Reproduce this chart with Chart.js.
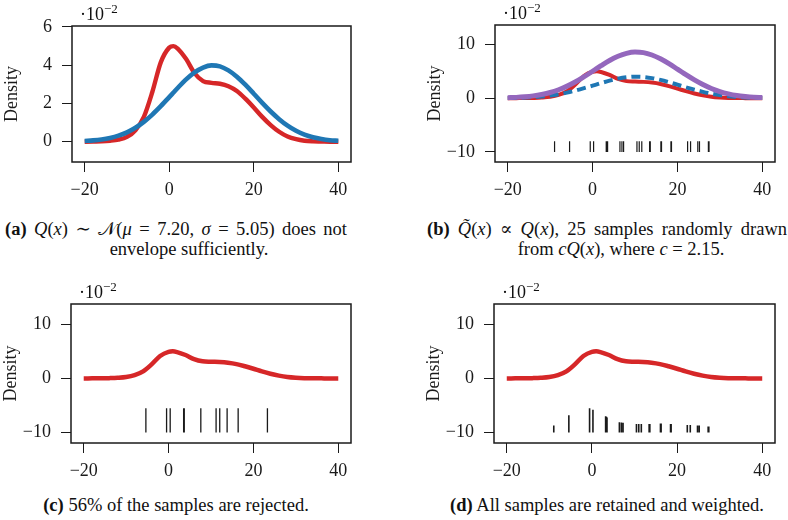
<!DOCTYPE html>
<html>
<head>
<meta charset="utf-8">
<script src="https://cdn.jsdelivr.net/npm/chart.js@4.4.1/dist/chart.umd.min.js"></script>
<style>
  body { margin: 0; background: #fff; }
  #fig { position: relative; width: 788px; height: 520px; overflow: hidden;
         font-family: "Liberation Serif", "DejaVu Serif", serif; color: #111; }
  .panel { position: absolute; }
  .panel canvas { display: block; }
  .scale { position: absolute; font-size: 18px; line-height: 18px; white-space: nowrap; }
  .scale sup { font-size: 13px; vertical-align: 7px; line-height: 0; }
  .cap { position: absolute; font-size: 18.5px; line-height: 20px; }
  .cap .l1 { text-align: justify; text-align-last: justify; }
  .cap .l2, .cap .one { text-align: center; }
</style>
</head>
<body>
<div id="fig">
  <div class="panel"><canvas id="chartA"></canvas></div>
  <div class="panel"><canvas id="chartB"></canvas></div>
  <div class="panel"><canvas id="chartC"></canvas></div>
  <div class="panel"><canvas id="chartD"></canvas></div>

  <div class="cap" style="left:5px; top:219px; width:342px;">
    <div class="l1"><b>(a)</b> <i>Q</i>(<i>x</i>) ∼ 𝒩(<i>μ</i> = 7.20, <i>σ</i> = 5.05) does not</div>
    <div class="l2" style="padding-left:26px;">envelope sufficiently.</div>
  </div>
  <div class="cap" style="left:427px; top:219px; width:360px;">
    <div class="l1"><b>(b)</b> <i>Q̃</i>(<i>x</i>) ∝ <i>Q</i>(<i>x</i>), 25 samples randomly drawn</div>
    <div class="l2" style="padding-left:28px;">from <i>cQ</i>(<i>x</i>), where <i>c</i> = 2.15.</div>
  </div>
  <div class="cap" style="left:5px; top:495px; width:342px;">
    <div class="one"><b>(c)</b> 56% of the samples are rejected.</div>
  </div>
  <div class="cap" style="left:427px; top:495px; width:360px;">
    <div class="one"><b>(d)</b> All samples are retained and weighted.</div>
  </div>
</div>

<script>
// density curves, values in units of 10^-2
const xGrid = [-20, -18, -16, -14, -12, -10, -8, -6, -4, -2, 0, 1, 2, 4, 6, 8,
               10, 12, 14, 16, 18, 20, 22, 24, 26, 28, 30, 32, 34, 36, 38, 40];
const targetP = [0.00, 0.01, 0.02, 0.05, 0.11, 0.25, 0.60, 1.30, 2.60, 4.15, 4.92, 5.00, 4.87, 4.32, 3.58, 3.17,
                 3.08, 3.03, 2.90, 2.65, 2.25, 1.79, 1.30, 0.87, 0.52, 0.27, 0.13, 0.05, 0.02, 0.01, 0.00, 0.00];
const proposalQ = [0.04, 0.07, 0.12, 0.20, 0.32, 0.49, 0.73, 1.04, 1.42, 1.86, 2.33, 2.57, 2.81, 3.26, 3.63, 3.88,
                   3.99, 3.94, 3.73, 3.40, 2.98, 2.51, 2.03, 1.58, 1.18, 0.84, 0.57, 0.37, 0.23, 0.14, 0.08, 0.05];
const scaledCQ = [0.09, 0.15, 0.26, 0.43, 0.69, 1.05, 1.57, 2.24, 3.05, 4.00, 5.01, 5.53, 6.04, 7.01, 7.80, 8.34,
                  8.58, 8.47, 8.02, 7.31, 6.41, 5.40, 4.36, 3.40, 2.54, 1.81, 1.23, 0.80, 0.49, 0.30, 0.17, 0.11];

// samples drawn from cQ(x)
const samplesAll = [-8.96, -5.42, -0.55, 0.24, 3.22, 3.40, 3.54, 6.45, 6.92, 7.31, 10.46, 11.0, 11.6,
                    13.44, 13.6, 16.1, 16.25, 18.47, 18.6, 22.4, 23.1, 24.8, 25.2, 27.3, 27.45];
const sampleWeights = [1.3, 3.2, 4.5, 4.2, 3.0, 2.9, 2.8, 1.9, 1.85, 1.8, 1.6, 1.6, 1.6,
                       1.6, 1.6, 1.65, 1.65, 1.6, 1.6, 1.4, 1.4, 1.3, 1.3, 1.1, 1.1];
const samplesAccepted = [-5.35, -0.47, 0.38, 3.55, 3.7, 7.6, 11.2, 12.06, 13.8, 16.4, 23.3];
const rugBase = -10;
const rugHeightB = 2;
const rugHeightC = 4.5;

const xTicks = [-20, 0, 20, 40];
const yTicksA = [0, 2, 4, 6];
const yTicksB = [-10, 0, 10];

const RED = "#d62728";
const BLUE = "#1f77b4";
const PURPLE = "#9467bd";
const INK = "#1a1a1a";
const FONT = { family: "'Liberation Serif', 'DejaVu Serif', serif", size: 18 };

const Y_AXIS_W = 72;
const X_AXIS_H = 46;
const PAD_TOP = 24;
const PAD_RIGHT = 10;

function curve(ys) {
  return xGrid.map((x, i) => ({ x: x, y: ys[i] }));
}

function rug(xs, heightOf) {
  const pts = [];
  xs.forEach((x, i) => {
    pts.push({ x: x, y: rugBase });
    pts.push({ x: x, y: rugBase + heightOf(i) });
    pts.push({ x: x, y: null });
  });
  return pts;
}

function lineSet(ys, color, width, dash) {
  return {
    data: curve(ys),
    showLine: true,
    borderColor: color,
    borderWidth: width,
    borderDash: dash || [],
    borderCapStyle: "butt",
    cubicInterpolationMode: "monotone",
    pointRadius: 0,
  };
}

function rugSet(pts, width) {
  return {
    data: pts,
    showLine: true,
    spanGaps: false,
    borderColor: INK,
    borderWidth: width,
    pointRadius: 0,
  };
}

const frame = {
  id: "frame",
  afterDatasetsDraw(chart) {
    const { ctx, chartArea: a } = chart;
    ctx.save();
    ctx.strokeStyle = INK;
    ctx.lineWidth = 1.5;
    ctx.strokeRect(a.left, a.top, a.right - a.left, a.bottom - a.top);
    ctx.restore();
  },
};

function fmt(v) {
  return v < 0 ? "\u2212" + Math.abs(v) : String(v);
}

function makePanel(id, box, yMin, yMax, yTicks, datasets) {
  const canvas = document.getElementById(id);
  const wrap = canvas.parentNode;
  const w = Y_AXIS_W + (box.r - box.l) + PAD_RIGHT;
  const h = PAD_TOP + (box.b - box.t) + X_AXIS_H;
  wrap.style.left = box.l - Y_AXIS_W + "px";
  wrap.style.top = box.t - PAD_TOP + "px";
  canvas.width = w;
  canvas.height = h;
  canvas.style.width = w + "px";
  canvas.style.height = h + "px";

  // the ·10^-2 multiplier above the frame
  const mult = document.createElement("div");
  mult.className = "scale";
  mult.innerHTML = "·10<sup>\u22122</sup>";
  mult.style.left = box.l + 8 + "px";
  mult.style.top = box.t - 21 + "px";
  document.getElementById("fig").appendChild(mult);

  new Chart(canvas, {
    type: "scatter",
    data: { datasets: datasets },
    options: {
      responsive: false,
      animation: false,
      events: [],
      layout: { padding: { left: 0, top: PAD_TOP, right: PAD_RIGHT, bottom: 0 } },
      plugins: { legend: { display: false }, tooltip: { enabled: false } },
      scales: {
        x: {
          type: "linear",
          min: -23,
          max: 43,
          afterBuildTicks: (s) => { s.ticks = xTicks.map((v) => ({ value: v })); },
          afterFit: (s) => { s.height = X_AXIS_H; },
          border: { display: false },
          grid: { drawOnChartArea: false, drawTicks: true, tickLength: 10, color: INK, tickColor: INK, tickWidth: 1 },
          ticks: { font: FONT, color: INK, padding: 7, maxRotation: 0, autoSkip: false, callback: (v) => fmt(v) },
        },
        y: {
          type: "linear",
          min: yMin,
          max: yMax,
          afterBuildTicks: (s) => { s.ticks = yTicks.map((v) => ({ value: v })); },
          afterFit: (s) => { s.width = Y_AXIS_W; },
          border: { display: false },
          grid: { drawOnChartArea: false, drawTicks: true, tickLength: 10, color: INK, tickColor: INK, tickWidth: 1 },
          ticks: { font: FONT, color: INK, padding: 10, autoSkip: false, callback: (v) => fmt(v) },
          title: { display: true, text: "Density", font: FONT, color: INK, padding: { top: 1, bottom: 0 } },
        },
      },
    },
    plugins: [frame],
  });
}

makePanel("chartA", { l: 72, t: 26, r: 351, b: 162 }, -1.06, 6.05, yTicksA, [
  lineSet(proposalQ, BLUE, 4.6),
  lineSet(targetP, RED, 4.4),
]);

makePanel("chartB", { l: 495, t: 25, r: 775, b: 162 }, -11.86, 13.6, yTicksB, [
  lineSet(scaledCQ, PURPLE, 5),
  lineSet(proposalQ, BLUE, 4, [9, 5]),
  lineSet(targetP, RED, 4),
  rugSet(rug(samplesAll, () => rugHeightB), 1.2),
]);

makePanel("chartC", { l: 71, t: 304, r: 351, b: 443 }, -11.93, 13.75, yTicksB, [
  lineSet(targetP, RED, 4.5),
  rugSet(rug(samplesAccepted, () => rugHeightC), 1.3),
]);

makePanel("chartD", { l: 494, t: 304, r: 775, b: 443 }, -11.93, 13.75, yTicksB, [
  lineSet(targetP, RED, 4.5),
  rugSet(rug(samplesAll, (i) => sampleWeights[i]), 1.6),
]);
</script>
</body>
</html>
